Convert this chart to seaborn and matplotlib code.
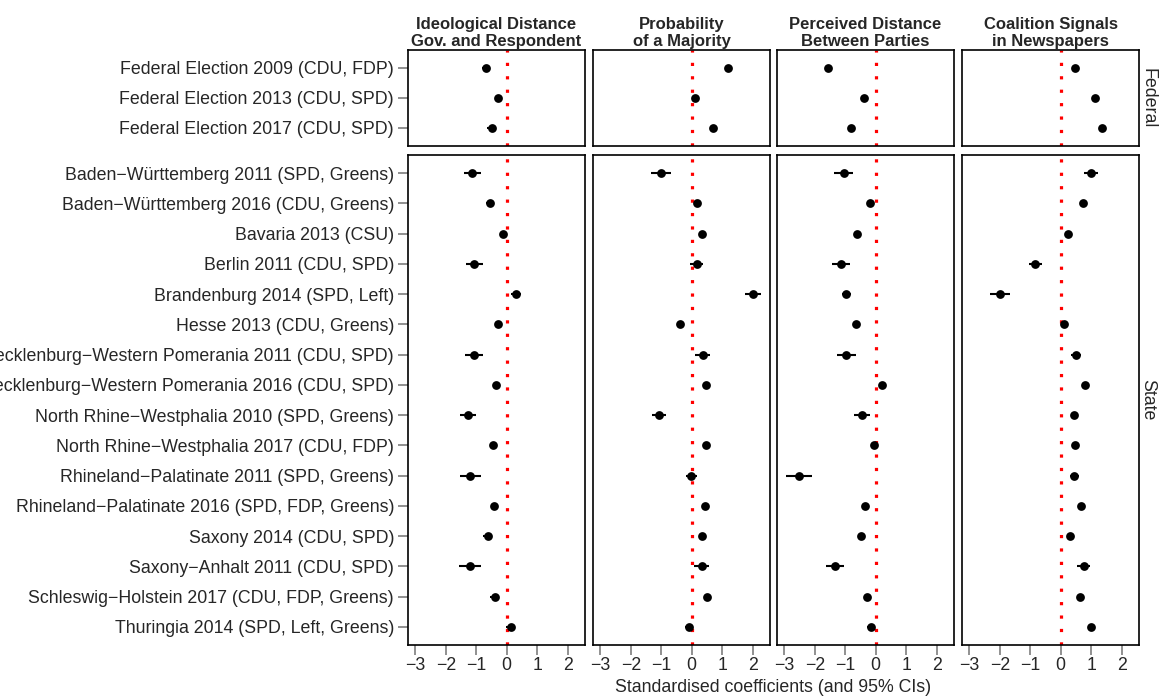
import numpy as np
import pandas as pd
import matplotlib
matplotlib.use("Agg")
import matplotlib.pyplot as plt
import seaborn as sns

sns.set_theme(style="white")
plt.rcParams['font.family'] = ['Liberation Sans', 'DejaVu Sans']
plt.rcParams['axes.unicode_minus'] = True

panels = ["Ideological Distance\nGov. and Respondent", "Probability\nof a Majority",
          "Perceived Distance\nBetween Parties", "Coalition Signals\nin Newspapers"]

labels_fed = ["Federal Election 2009 (CDU, FDP)", "Federal Election 2013 (CDU, SPD)",
              "Federal Election 2017 (CDU, SPD)"]
labels_state = [
    "Baden\u2212Württemberg 2011 (SPD, Greens)",
    "Baden\u2212Württemberg 2016 (CDU, Greens)",
    "Bavaria 2013 (CSU)",
    "Berlin 2011 (CDU, SPD)",
    "Brandenburg 2014 (SPD, Left)",
    "Hesse 2013 (CDU, Greens)",
    "Mecklenburg\u2212Western Pomerania 2011 (CDU, SPD)",
    "Mecklenburg\u2212Western Pomerania 2016 (CDU, SPD)",
    "North Rhine\u2212Westphalia 2010 (SPD, Greens)",
    "North Rhine\u2212Westphalia 2017 (CDU, FDP)",
    "Rhineland\u2212Palatinate 2011 (SPD, Greens)",
    "Rhineland\u2212Palatinate 2016 (SPD, FDP, Greens)",
    "Saxony 2014 (CDU, SPD)",
    "Saxony\u2212Anhalt 2011 (CDU, SPD)",
    "Schleswig\u2212Holstein 2017 (CDU, FDP, Greens)",
    "Thuringia 2014 (SPD, Left, Greens)",
]

# estimates and CI half-widths
ideo_fed = [-0.69, -0.28, -0.49]
ideo_fed_ci = [0.13, 0.06, 0.15]
ideo_state = [-1.13, -0.56, -0.12, -1.06, 0.30, -0.30, -1.08, -0.35,
              -1.27, -0.45, -1.20, -0.43, -0.62, -1.21, -0.39, 0.13]
ideo_state_ci = [0.27, 0.13, 0.05, 0.27, 0.17, 0.06, 0.30, 0.10,
                 0.26, 0.08, 0.34, 0.06, 0.15, 0.35, 0.15, 0.15]

maj_fed = [1.18, 0.11, 0.71]
maj_fed_ci = [0.10, 0.06, 0.10]
maj_state = [-1.01, 0.16, 0.35, 0.16, 2.02, -0.39, 0.36, 0.48,
             -1.07, 0.47, -0.01, 0.45, 0.33, 0.33, 0.50, -0.09]
maj_state_ci = [0.32, 0.06, 0.06, 0.20, 0.27, 0.05, 0.24, 0.06,
                0.24, 0.05, 0.19, 0.05, 0.06, 0.24, 0.05, 0.12]

perc_fed = [-1.58, -0.39, -0.81]
perc_fed_ci = [0.10, 0.05, 0.10]
perc_state = [-1.05, -0.19, -0.61, -1.14, -0.96, -0.66, -0.97, 0.22,
              -0.46, -0.07, -2.53, -0.34, -0.47, -1.33, -0.29, -0.17]
perc_state_ci = [0.31, 0.08, 0.06, 0.30, 0.15, 0.06, 0.31, 0.06,
                 0.26, 0.06, 0.43, 0.06, 0.10, 0.30, 0.06, 0.10]

sig_fed = [0.48, 1.13, 1.35]
sig_fed_ci = [0.05, 0.05, 0.05]
sig_state = [0.98, 0.72, 0.24, -0.83, -1.99, 0.11, 0.50, 0.80,
             0.43, 0.48, 0.45, 0.65, 0.29, 0.75, 0.63, 0.98]
sig_state_ci = [0.23, 0.06, 0.06, 0.21, 0.33, 0.06, 0.15, 0.06,
                0.08, 0.06, 0.15, 0.06, 0.06, 0.20, 0.06, 0.08]

xticks = [-3, -2, -1, 0, 1, 2]
row_names = ["Federal", "State"]

fed_est = [ideo_fed, maj_fed, perc_fed, sig_fed]
fed_ci = [ideo_fed_ci, maj_fed_ci, perc_fed_ci, sig_fed_ci]
st_est = [ideo_state, maj_state, perc_state, sig_state]
st_ci = [ideo_state_ci, maj_state_ci, perc_state_ci, sig_state_ci]

rows = []
for p, name in enumerate(panels):
    for i, lab in enumerate(labels_fed):
        rows.append(dict(panel=name, level="Federal", label=lab, pos=i + 1,
                         est=fed_est[p][i], ci=fed_ci[p][i]))
    for i, lab in enumerate(labels_state):
        rows.append(dict(panel=name, level="State", label=lab, pos=i + 1,
                         est=st_est[p][i], ci=st_ci[p][i]))
df = pd.DataFrame(rows)

W, H = 1160, 698
fig = plt.figure(figsize=(W / 100, H / 100), dpi=100)

col_left = [408, 593, 777, 962]
col_w = 177
row_top = [50, 155]
row_bot = [146, 645]
nrow_items = [len(labels_fed), len(labels_state)]
xlim = (-3.24, 2.57)
tick_gray = "#888888"
fs = 12.8

for r, level in enumerate(row_names):
    for c, name in enumerate(panels):
        x0 = col_left[c] / W
        y0 = 1 - row_bot[r] / H
        ax = fig.add_axes([x0, y0, col_w / W, (row_bot[r] - row_top[r]) / H])
        sub = df[(df.panel == name) & (df.level == level)]
        ax.axvline(0, color="red", lw=2.3, linestyle=(0, (1, 3.2)), zorder=1)
        ax.hlines(sub.pos, sub.est - sub.ci, sub.est + sub.ci, color="black",
                  lw=1.5, zorder=2)
        sns.scatterplot(data=sub, x="est", y="pos", ax=ax, color="black", s=40,
                        edgecolor="black", linewidth=0, zorder=3, legend=False)
        n = nrow_items[r]
        ax.set_xlim(*xlim)
        ax.set_ylim(n + 0.6, 0.4)
        ax.set_xlabel("")
        ax.set_ylabel("")
        for s in ax.spines.values():
            s.set_visible(True)
            s.set_color("black")
            s.set_linewidth(1.2)
        ax.set_xticks(xticks)
        if r == 1:
            ax.set_xticklabels([f"{t}".replace("-", "\u2212") for t in xticks], fontsize=fs)
            ax.tick_params(axis="x", bottom=True, length=7, width=1.3, color=tick_gray,
                           direction="out", pad=2)
        else:
            ax.tick_params(axis="x", bottom=False, labelbottom=False)
        ax.set_yticks(range(1, n + 1))
        if c == 0:
            labs = labels_fed if r == 0 else labels_state
            ax.set_yticklabels(labs, fontsize=fs)
            ax.tick_params(axis="y", left=True, length=7, width=1.3, color=tick_gray,
                           direction="out", pad=3)
        else:
            ax.tick_params(axis="y", left=False, labelleft=False)
        if r == 0:
            ax.set_title(name, fontsize=12, fontweight="bold", pad=3, linespacing=1.12)
        if c == 3:
            ax.text(1.05, 0.5, level, transform=ax.transAxes, rotation=270,
                    ha="center", va="center", fontsize=fs)

fig.text((col_left[0] + col_left[3] + col_w) / 2 / W, 1 - 688 / H,
         "Standardised coefficients (and 95% CIs)", ha="center", va="center", fontsize=fs)

fig.savefig("out.png", dpi=100)
